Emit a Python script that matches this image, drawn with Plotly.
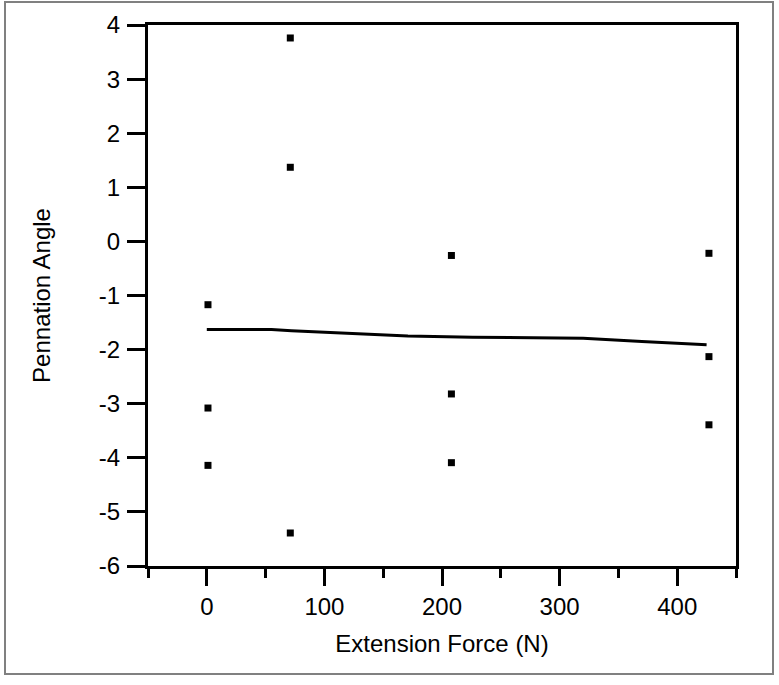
import plotly.graph_objects as go

# data
force_x = [1, 1, 1, 71, 71, 71, 208, 208, 208, 427, 427, 427]
angle_y = [-1.17, -3.08, -4.14, 3.76, 1.37, -5.39, -0.26, -2.82, -4.09, -0.22, -2.13, -3.39]

fit_x = [0, 55, 72, 106, 140, 171, 226, 320, 370, 425]
fit_y = [-1.63, -1.63, -1.65, -1.68, -1.72, -1.75, -1.77, -1.79, -1.85, -1.91]

x_ticks = [0, 100, 200, 300, 400]
x_minor = [-50, 50, 150, 250, 350, 450]
y_ticks = [4, 3, 2, 1, 0, -1, -2, -3, -4, -5, -6]

FONT = "Liberation Sans, Arial, Helvetica, sans-serif"

fig = go.Figure()
fig.add_trace(go.Scatter(x=fit_x, y=fit_y, mode="lines",
                         line=dict(color="black", width=3), hoverinfo="skip"))
fig.add_trace(go.Scatter(x=force_x, y=angle_y, mode="markers",
                         marker=dict(symbol="square", size=7, color="black")))

L, R, T, B = 148, 43, 25, 119
W, H = 779, 685
pw = W - L - R
ph = H - T - B

fig.update_layout(
    width=W, height=H,
    margin=dict(l=L, r=R, t=T, b=B, pad=0),
    paper_bgcolor="white", plot_bgcolor="white",
    showlegend=False,
    font=dict(family=FONT, size=24, color="black"),
    xaxis=dict(range=[-50, 450], tickvals=x_ticks, ticktext=[str(v) for v in x_ticks],
               showgrid=False, zeroline=False, showline=True, linecolor="black",
               linewidth=3, mirror=True, ticks="outside", ticklen=17, tickwidth=3,
               tickcolor="black", tickfont=dict(size=24, family=FONT),
               minor=dict(tickvals=x_minor, ticks="outside", ticklen=9, tickwidth=3,
                          tickcolor="black", showgrid=False),
               title=dict(text="Extension Force (N)", font=dict(size=24, family=FONT),
                          standoff=17)),
    yaxis=dict(range=[-6, 4], tickvals=y_ticks, ticktext=[str(v) for v in y_ticks],
               showgrid=False, zeroline=False, showline=True, linecolor="black",
               linewidth=3, mirror=True, ticks="outside", ticklen=18, tickwidth=3,
               tickcolor="black", tickfont=dict(size=24, family=FONT),
               ticklabelstandoff=2,
               title=dict(text="Pennation Angle", font=dict(size=24, family=FONT),
                          standoff=42)),
)

# outer frame around the whole figure
x0 = (5 - L) / pw
x1 = (773 - L) / pw
y0 = (H - B - 674) / ph
y1 = (H - B - 2) / ph
fig.add_shape(type="rect", xref="paper", yref="paper", x0=x0, x1=x1, y0=y0, y1=y1,
              line=dict(color="#808080", width=2), layer="below")

fig.write_html("out.html")
